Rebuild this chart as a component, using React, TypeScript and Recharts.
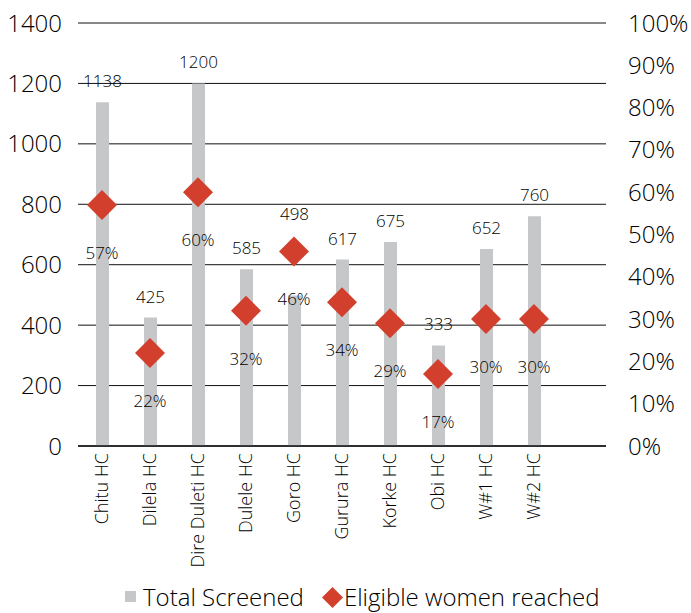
import { ComposedChart, Bar, Scatter, XAxis, YAxis, CartesianGrid, Legend, LabelList } from 'recharts';

const FONT = '"Open Sans", sans-serif';
const GREY = '#c6c7c9';
const RED = '#d2402d';
const TEXT = '#000';

const facilities = ['Chitu HC', 'Dilela HC', 'Dire Duleti HC', 'Dulele HC', 'Goro HC', 'Gurura HC', 'Korke HC', 'Obi HC', 'W#1 HC', 'W#2 HC'];
const totalScreened = [1138, 425, 1200, 585, 498, 617, 675, 333, 652, 760];
const eligibleReached = [57, 22, 60, 32, 46, 34, 29, 17, 30, 30];

const leftTicks = [0, 200, 400, 600, 800, 1000, 1200, 1400];
const rightTicks = [0, 10, 20, 30, 40, 50, 60, 70, 80, 90, 100];

const LEFT_MAX = 1400;
const RIGHT_MAX = 100;

const data = facilities.map((name, i) => ({
  name,
  screened: totalScreened[i],
  eligible: eligibleReached[i],
}));

const XTick = ({ x, y, payload }: any) => (
  <text
    x={x}
    y={y}
    transform={`rotate(-90, ${x}, ${y})`}
    textAnchor="end"
    dy="0.36em"
    fontSize={18}
    fontFamily={FONT}
    fontWeight={300}
    fill={TEXT}
  >
    {payload.value}
  </text>
);

const Diamond = ({ cx, cy, payload }: any) => {
  const r = 15;
  return (
    <g>
      <path d={`M${cx},${cy - r}L${cx + r},${cy}L${cx},${cy + r}L${cx - r},${cy}Z`} fill={RED} />
      <text x={cx} y={cy + 54} textAnchor="middle" fontSize={17} fontFamily={FONT} fontWeight={300} fill={TEXT}>
        {payload.eligible}%
      </text>
    </g>
  );
};

// value above the bar, lifted over the diamond when they would collide
const BarValue = ({ x, y, width, height, value, index }: any) => {
  const bottom = y + height;
  const pxPerUnit = height / value;
  const diamondY = bottom - (eligibleReached[index] / RIGHT_MAX) * LEFT_MAX * pxPerUnit;
  let baseline = y - 15;
  if (Math.abs(baseline - 6 - diamondY) < 35) baseline = diamondY - 31;
  return (
    <text x={x + width / 2} y={baseline} textAnchor="middle" fontSize={17} fontFamily={FONT} fontWeight={300} fill={TEXT}>
      {value}
    </text>
  );
};

const LegendContent = ({ payload }: any) => {
  const items = [...(payload || [])].sort((a: any) => (a.dataKey === 'screened' ? -1 : 1));
  return (
    <div style={{ height: 30, display: 'flex', alignItems: 'center', paddingLeft: 125, fontFamily: FONT, fontWeight: 300, fontSize: 24, lineHeight: '28px', color: TEXT }}>
      {items.map((entry: any) => (
        <div key={entry.value} style={{ display: 'flex', alignItems: 'center', marginRight: 18 }}>
          {entry.dataKey === 'screened' ? (
            <svg width={16} height={12} style={{ marginRight: 2 }}>
              <rect x={0} y={0} width={11} height={11} fill={GREY} />
            </svg>
          ) : (
            <svg width={21} height={21} style={{ marginRight: 1 }}>
              <path d="M10.5,0L21,10.5L10.5,21L0,10.5Z" fill={RED} />
            </svg>
          )}
          <span>{entry.value}</span>
        </div>
      ))}
    </div>
  );
};

export default function App() {
  return (
    <div style={{ position: 'absolute', left: 0, top: 0, fontFamily: FONT }}>
      <ComposedChart width={691} height={613} data={data} margin={{ top: 23, right: 0, bottom: 0, left: 0 }}>
        <CartesianGrid vertical={false} stroke="#111" strokeWidth={1} yAxisId="left" />
        <XAxis
          dataKey="name"
          interval={0}
          tick={<XTick />}
          tickLine={false}
          tickSize={0}
          tickMargin={7}
          axisLine={{ stroke: '#111', strokeWidth: 1.5 }}
          height={137}
          padding={{ left: 0, right: 48 }}
        />
        <YAxis
          yAxisId="left"
          domain={[0, LEFT_MAX]}
          ticks={leftTicks}
          width={78}
          axisLine={false}
          tickLine={false}
          tickSize={0}
          tickMargin={16}
          tick={{ fontSize: 24, fill: TEXT, fontFamily: FONT, fontWeight: 300 }}
        />
        <YAxis
          yAxisId="right"
          orientation="right"
          domain={[0, RIGHT_MAX]}
          ticks={rightTicks}
          width={85}
          axisLine={false}
          tickLine={false}
          tickSize={0}
          tickMargin={22}
          tickFormatter={(v) => `${v}%`}
          tick={{ fontSize: 24, fill: TEXT, fontFamily: FONT, fontWeight: 300 }}
        />
        <Bar yAxisId="left" dataKey="screened" name="Total Screened" fill={GREY} barSize={13} isAnimationActive={false}>
          <LabelList dataKey="screened" content={<BarValue />} />
        </Bar>
        <Scatter yAxisId="right" dataKey="eligible" name="Eligible women reached" fill={RED} shape={<Diamond />} isAnimationActive={false} />
        <Legend verticalAlign="bottom" content={<LegendContent />} wrapperStyle={{ bottom: 1 }} />
      </ComposedChart>
    </div>
  );
}
